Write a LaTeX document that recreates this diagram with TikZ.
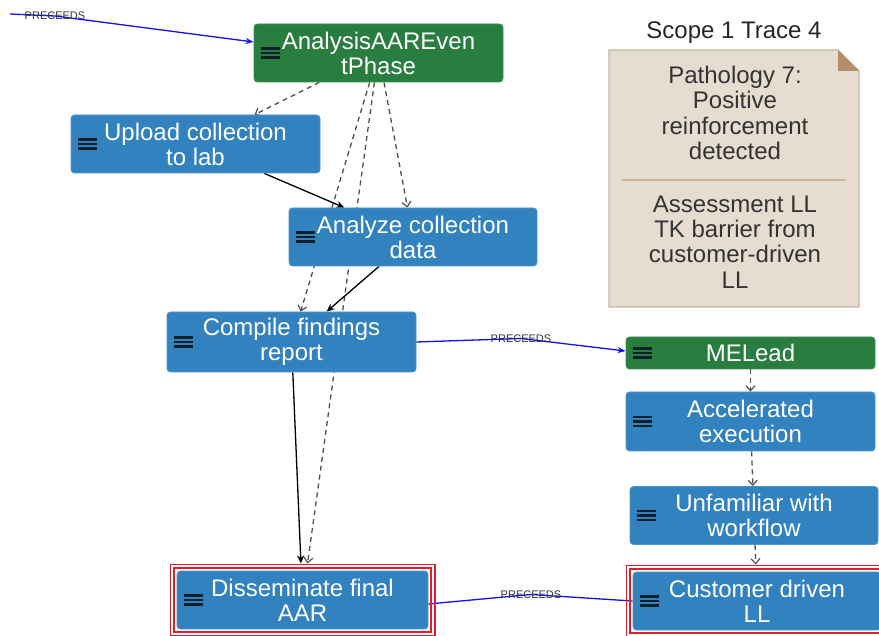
\documentclass[tikz,border=0pt]{standalone}
\usepackage{fontspec}
\setmainfont{Liberation Sans}
\usetikzlibrary{arrows.meta,fit,calc}

\definecolor{taskblue}{HTML}{3282BF}
\definecolor{taskedge}{HTML}{4D95CC}
\definecolor{phasegreen}{HTML}{287D3F}
\definecolor{phaseedge}{HTML}{3E8F53}
\definecolor{hamcol}{HTML}{0F1F2C}
\definecolor{notefill}{HTML}{E6DCD0}
\definecolor{noteedge}{HTML}{C9B59F}
\definecolor{notefold}{HTML}{B38F6C}
\definecolor{notetext}{HTML}{333333}
\definecolor{flowgray}{HTML}{505050}
\definecolor{alertred}{HTML}{E01F2B}
\definecolor{linkblue}{HTML}{1010F0}

\pgfdeclarelayer{edges}
\pgfsetlayers{edges,main}

\tikzset{
  basebox/.style={rounded corners=3.5pt, inner sep=0pt, text=white, align=center,
    line width=0.8pt, font=\fontsize{24}{25}\selectfont,
    path picture={
      \foreach \dy in {-4.4,0,4.4}{
        \fill[hamcol, sharp corners]
          ([xshift=7pt,yshift=\dy pt+1.25pt]path picture bounding box.west)
          rectangle ++(19pt,-2.5pt);
      }
    }},
  task/.style={basebox, fill=taskblue, draw=taskedge, minimum width=249pt, minimum height=58pt},
  phase/.style={basebox, fill=phasegreen, draw=phaseedge, minimum width=249pt, minimum height=58pt},
  outerframe/.style={draw=alertred, line width=1.2pt, inner sep=6.5pt},
  innerframe/.style={draw=alertred, line width=2pt, inner sep=3pt},
  dep/.style={flowgray, line width=1.3pt, dash pattern=on 5pt off 4pt,
    -{Straight Barb[length=5pt,width=9pt,line width=1.2pt]}},
  seq/.style={black, line width=1.3pt, -{Stealth[length=8pt,width=7pt]}},
  link/.style={linkblue, line width=1.3pt},
  linkarrow/.style={link, -{Stealth[length=8pt,width=6pt]}},
  linklabel/.style={text=notetext, inner sep=0pt, font=\fontsize{11}{12}\selectfont},
  notetxt/.style={text=notetext, align=center, inner sep=0pt, font=\fontsize{24}{25.4}\selectfont},
}

\begin{document}
\begin{tikzpicture}[x=1pt,y=-1pt]
\useasboundingbox (0,0) rectangle (879,636);
\clip (0,0) rectangle (879,636);

% task and phase boxes
\node[phase] (analysis) at (378.5,53) {AnalysisAAREven\\tPhase};
\node[task] (upload) at (195.5,144) {Upload collection\\to lab};
\node[task, minimum width=248pt] (analyze) at (413,237) {Analyze collection\\data};
\node[task, minimum height=60pt] (compile) at (291.5,342) {Compile findings\\report};
\node[task, minimum width=251pt] (dissem) at (302.5,600) {Disseminate final\\AAR};

\node[phase, minimum height=32pt] (melead) at (750.5,353) {MELead};
\node[task, minimum height=59pt] (accel) at (750.5,421.5) {Accelerated\\execution};
\node[task, minimum width=248pt] (unfam) at (754,515.5) {Unfamiliar with\\workflow};
\node[task, minimum width=248pt] (customer) at (757,601) {Customer driven\\LL};

% double red highlight frames
\node[outerframe, fit=(dissem)] (dissemF) {};
\node[innerframe, fit=(dissem)] (dissemI) {};
\node[outerframe, fit=(customer)] (customerF) {};
\node[innerframe, fit=(customer)] (customerI) {};

% PRECEEDS labels
\coordinate (origin) at (10,14);
\node[linklabel] (lblA) at (55,16) {PRECEEDS};
\node[linklabel] (lblB) at (521,338.5) {PRECEEDS};
\node[linklabel] (lblC) at (531,594.5) {PRECEEDS};

% connectors, kept underneath the boxes
\begin{pgfonlayer}{edges}
\draw[dep] (analysis) -- (upload);
\draw[dep] (analysis) -- (analyze);
\draw[dep] (analysis) -- (compile);
\draw[dep] (analysis) -- (dissemF);
\draw[seq] (upload) -- (analyze);
\draw[seq] (analyze) -- (compile);
\draw[seq] (compile) -- (dissemF);

\draw[dep] (melead) -- (accel);
\draw[dep] (accel) -- (unfam);
\draw[dep] (unfam) -- (customerF);

\draw[link] (origin) -- (lblA.center);
\draw[linkarrow] (lblA.center) -- ([yshift=11pt]analysis.west);
\draw[link] (compile.east) -- (lblB.center);
\draw[linkarrow] (lblB.center) -- ([yshift=2pt]melead.west);
\draw[link] ([yshift=-4pt]dissem.east) -- (lblC.center) -- (customer.west);
\end{pgfonlayer}

% annotation note
\node[text=black!85, inner sep=0pt, font=\fontsize{24}{25}\selectfont] (scope) at (734,33) {Scope 1 Trace 4};
\path[fill=notefill, draw=noteedge, line width=1.2pt]
  (609,50) -- (838,50) -- (859,71) -- (859,307) -- (609,307) -- cycle;
\fill[notefold] (838,50) -- (838,71) -- (859,71) -- cycle;
\node[notetxt] (patho) at (735,113) {Pathology 7:\\Positive\\reinforcement\\detected};
\node[notetxt] (assess) at (735,242) {Assessment LL\\TK barrier from\\customer-driven\\LL};
\draw[noteedge, line width=1.5pt] (622,180) -- (846,180);
\end{tikzpicture}
\end{document}
